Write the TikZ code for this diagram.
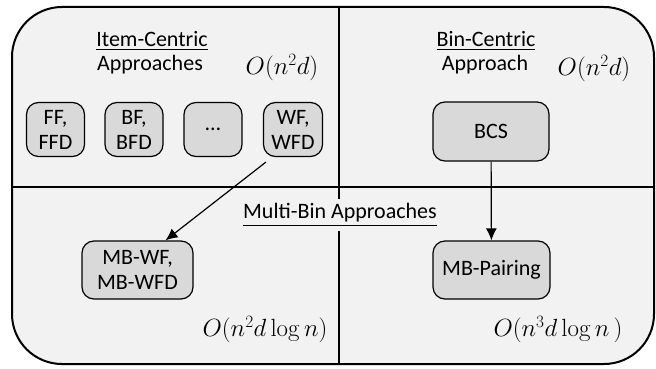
\documentclass[tikz,border=0pt]{standalone}
\usepackage[no-math]{fontspec}
\setmainfont{Carlito}
\usepackage{amsmath}
\usetikzlibrary{arrows.meta}

\begin{document}
\begin{tikzpicture}[x=1pt,y=-1pt,font=\fontsize{22}{25}\selectfont]
\tikzset{box/.style = {shape=rectangle,rounded corners=12pt,draw,line width=1.2pt,fill=black!15,align=center,inner sep=0pt}}
\tikzset{cost/.style = {font=\fontsize{24}{28}\selectfont}}
\tikzset{edge/.style = {-{Latex[length=12pt,width=11pt]},line width=1.2pt}}
\tikzset{divider/.style = {line width=1.8pt}}
\useasboundingbox (0,0) rectangle (656,369);
% background panel
\fill[black!5,rounded corners=50pt] (12,7) rectangle (654,364);
\draw[divider] (12,187) -- (654,187);
\draw[divider] (339,7) -- (339,364);
% headings
\node (itemhead) at (152,41) {\underline{Item-Centric}};
\node (itemsub) at (150,65) {Approaches};
\node[cost] (itemcost) at (282,68) {$O(n^2d)$};
\node (binhead) at (486,41) {\underline{Bin-Centric}};
\node (binsub) at (485,65) {Approach};
\node[cost] (bincost) at (594,69) {$O(n^2d)$};
\node[fill=black!5,inner sep=5pt] (multihead) at (340,215) {\underline{Multi-Bin Approaches}};
\node[cost] (mbwfcost) at (265,330) {$O(n^2d\log n)$};
\node[cost] (mbpcost) at (558,330) {$O(n^3d\log n\,)$};
% algorithm boxes
\node[box,minimum width=58pt,minimum height=54pt] (ff) at (55.5,129.5) {FF,\\FFD};
\node[box,minimum width=58pt,minimum height=54pt] (bf) at (134,129.5) {BF,\\BFD};
\node[box,minimum width=58pt,minimum height=54pt] (dots) at (213,129.5) {…};
\node[box,minimum width=59pt,minimum height=54pt] (wf) at (293,129.5) {WF,\\WFD};
\node[box,minimum width=116pt,minimum height=59pt] (bcs) at (491,131.5) {BCS};
\node[box,minimum width=111pt,minimum height=58pt] (mbwf) at (137.5,270) {MB-WF,\\MB-WFD};
\node[box,minimum width=117pt,minimum height=58pt] (mbp) at (491.5,270) {MB-Pairing};
\draw[edge] ([xshift=3pt,yshift=-5pt]wf.south west) -- ([xshift=28pt]mbwf.north);
\draw[edge] (bcs) -- (mbp);
% outer border
\draw[line width=2pt,rounded corners=50pt] (12,7) rectangle (654,364);
\end{tikzpicture}
\end{document}
